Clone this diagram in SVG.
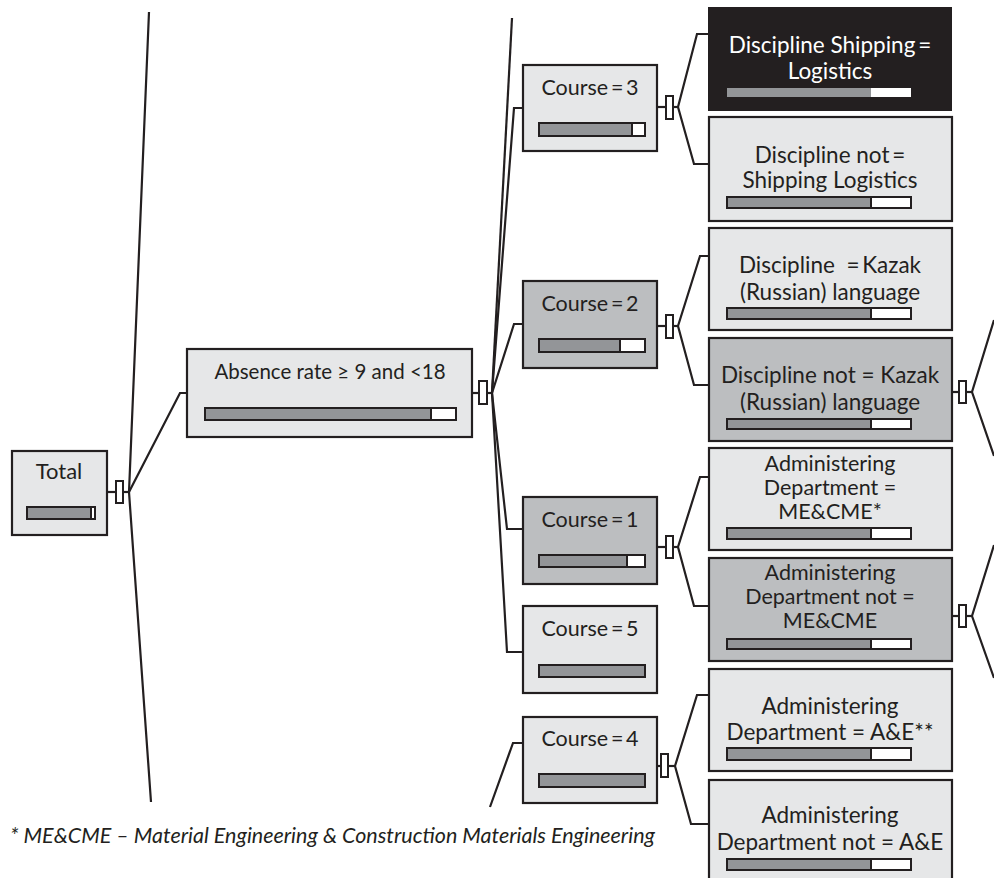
<svg xmlns="http://www.w3.org/2000/svg" width="994" height="878" viewBox="0 0 994 878">
<style>
.n{stroke:#231f20;stroke-width:2.2}
.lt{fill:#e6e7e8}
.md{fill:#bcbec0}
.bk{fill:#231f20}
.bar{fill:#939598;stroke:#231f20;stroke-width:2}
.wb{fill:#ffffff;stroke:#231f20;stroke-width:2}
.t{font-family:Lato,"Open Sans","Liberation Sans",sans-serif;fill:#231f20;text-anchor:middle}
.tc{font-size:21.5px}
.tr{font-size:22.5px}
.t3{font-size:21.5px}
.w{fill:#ffffff}
.c{fill:none;stroke:#231f20;stroke-width:2.2;stroke-linejoin:miter}
.k{fill:#ffffff;stroke:#231f20;stroke-width:2}
.fn{font-family:Lato,"Open Sans","Liberation Sans",sans-serif;font-size:21.5px;font-style:italic;fill:#231f20}
</style>
<rect width="994" height="878" fill="#ffffff"/>
<g id="connectors">
  <polyline class="c" points="149,12 129,492 151,802"/>
  <polyline class="c" points="107,492 129,492"/>
  <polyline class="c" points="129,492 180,393 187,393"/>
  <rect class="k" x="116" y="481" width="7" height="22"/>
  <polyline class="c" points="472,393 492,393"/>
  <polyline class="c" points="492,393 512,18"/>
  <polyline class="c" points="492,393 514,108 523,108"/>
  <polyline class="c" points="492,393 514,324 523,324"/>
  <polyline class="c" points="492,393 507,529 523,529"/>
  <polyline class="c" points="492,393 507,652 523,652"/>
  <rect class="k" x="479" y="381" width="8" height="23"/>
  <polyline class="c" points="490,807 513,743 523,743"/>
  <polyline class="c" points="657,107 678,107"/>
  <polyline class="c" points="708,34 697,34 678,107 694,164 708,164"/>
  <rect class="k" x="666" y="96" width="7" height="23"/>
  <polyline class="c" points="657,326 678,326"/>
  <polyline class="c" points="708,256 700,256 678,326 694,385 708,385"/>
  <rect class="k" x="666" y="315" width="7" height="23"/>
  <polyline class="c" points="657,547 678,547"/>
  <polyline class="c" points="708,477 700,477 678,547 694,606 708,606"/>
  <rect class="k" x="666" y="536" width="7" height="22"/>
  <polyline class="c" points="657,766 675,766"/>
  <polyline class="c" points="708,695 697,695 675,766 691,824 708,824"/>
  <rect class="k" x="661" y="754" width="7" height="23"/>
  <polyline class="c" points="952,392 972,392"/>
  <polyline class="c" points="994,320 972,392 994,456"/>
  <rect class="k" x="959" y="381" width="7" height="22"/>
  <polyline class="c" points="952,616 972,616"/>
  <polyline class="c" points="994,545 972,616 994,678"/>
  <rect class="k" x="959" y="605" width="7" height="22"/>
</g>
<g id="total">
  <rect class="n lt" x="12" y="451" width="95" height="84"/>
  <text class="t" style="font-size:22px" x="59" y="479">Total</text>
  <rect class="wb" x="27" y="507" width="68" height="12"/>
  <rect class="bar" x="27" y="507" width="64" height="12"/>
</g>
<g id="absence">
  <rect class="n lt" x="187" y="349" width="285" height="88"/>
  <text class="t" style="font-size:20.5px" x="330" y="379">Absence rate ≥ 9 and &lt;18</text>
  <rect class="wb" x="205" y="408" width="251" height="12"/>
  <rect class="bar" x="205" y="408" width="226" height="12"/>
</g>
<g id="course3">
  <rect class="n lt" x="523" y="65" width="134" height="86"/>
  <text class="t tc" x="590" y="95">Course&#8201;=&#8201;3</text>
  <rect class="wb" x="539" y="123" width="106" height="13"/>
  <rect class="bar" x="539" y="123" width="93" height="13"/>
</g>
<g id="course2">
  <rect class="n md" x="523" y="281" width="134" height="87"/>
  <text class="t tc" x="590" y="311">Course&#8201;=&#8201;2</text>
  <rect class="wb" x="539" y="339" width="106" height="13"/>
  <rect class="bar" x="539" y="339" width="81" height="13"/>
</g>
<g id="course1">
  <rect class="n md" x="523" y="497" width="134" height="87"/>
  <text class="t tc" x="590" y="527">Course&#8201;=&#8201;1</text>
  <rect class="wb" x="539" y="555" width="106" height="12"/>
  <rect class="bar" x="539" y="555" width="88" height="12"/>
</g>
<g id="course5">
  <rect class="n lt" x="523" y="606" width="134" height="87"/>
  <text class="t tc" x="590" y="636">Course&#8201;=&#8201;5</text>
  <rect class="bar" x="539" y="665" width="106" height="12"/>
</g>
<g id="course4">
  <rect class="n lt" x="523" y="717" width="134" height="86"/>
  <text class="t tc" x="590" y="746">Course&#8201;=&#8201;4</text>
  <rect class="bar" x="539" y="774" width="106" height="13"/>
</g>
<g id="disc-shipping">
  <rect class="bk" x="708" y="7" width="244" height="104"/>
  <text class="t tr w" x="830" y="53">Discipline Shipping&#8201;=</text>
  <text class="t tr w" x="830" y="79">Logistics</text>
  <rect fill="#ffffff" x="871" y="88" width="40" height="9"/>
  <rect fill="#939598" x="727" y="88" width="144" height="9"/>
</g>
<g id="disc-not-shipping">
  <rect class="n lt" x="709" y="117" width="243" height="104"/>
  <text class="t tr" x="830" y="163">Discipline not&#8201;=</text>
  <text class="t tr" x="830" y="188">Shipping Logistics</text>
  <rect class="wb" x="727" y="197" width="184" height="11"/>
  <rect class="bar" x="727" y="197" width="144" height="11"/>
</g>
<g id="disc-kazak">
  <rect class="n lt" x="709" y="228" width="243" height="102"/>
  <text class="t tr" x="830" y="273">Discipline&#160;&#160;=&#8201;Kazak</text>
  <text class="t tr" x="830" y="300">(Russian) language</text>
  <rect class="wb" x="727" y="308" width="184" height="11"/>
  <rect class="bar" x="727" y="308" width="144" height="11"/>
</g>
<g id="disc-not-kazak">
  <rect class="n md" x="709" y="338" width="243" height="103"/>
  <text class="t tr" x="830" y="383">Discipline not = Kazak</text>
  <text class="t tr" x="830" y="410">(Russian) language</text>
  <rect class="wb" x="727" y="419" width="184" height="10"/>
  <rect class="bar" x="727" y="419" width="144" height="10"/>
</g>
<g id="admin-mecme">
  <rect class="n lt" x="709" y="448" width="243" height="102"/>
  <text class="t t3" x="830" y="471">Administering</text>
  <text class="t t3" x="830" y="495">Department =</text>
  <text class="t t3" x="830" y="519">ME&amp;CME*</text>
  <rect class="wb" x="727" y="528" width="184" height="11"/>
  <rect class="bar" x="727" y="528" width="144" height="11"/>
</g>
<g id="admin-not-mecme">
  <rect class="n md" x="709" y="558" width="243" height="103"/>
  <text class="t t3" x="830" y="580">Administering</text>
  <text class="t t3" x="830" y="604">Department not =</text>
  <text class="t t3" x="830" y="628">ME&amp;CME</text>
  <rect class="wb" x="727" y="639" width="184" height="10"/>
  <rect class="bar" x="727" y="639" width="144" height="10"/>
</g>
<g id="admin-ae">
  <rect class="n lt" x="709" y="669" width="243" height="102"/>
  <text class="t tr" x="830" y="714">Administering</text>
  <text class="t tr" x="830" y="740">Department = A&amp;E**</text>
  <rect class="wb" x="727" y="748" width="184" height="12"/>
  <rect class="bar" x="727" y="748" width="144" height="12"/>
</g>
<g id="admin-not-ae">
  <rect class="n lt" x="709" y="780" width="243" height="110"/>
  <text class="t tr" x="830" y="823">Administering</text>
  <text class="t tr" x="830" y="850">Department not = A&amp;E</text>
  <rect class="wb" x="727" y="859" width="184" height="11"/>
  <rect class="bar" x="727" y="859" width="144" height="11"/>
</g>
<text class="fn" x="10" y="843">* ME&amp;CME – Material Engineering &amp; Construction Materials Engineering</text>
</svg>
